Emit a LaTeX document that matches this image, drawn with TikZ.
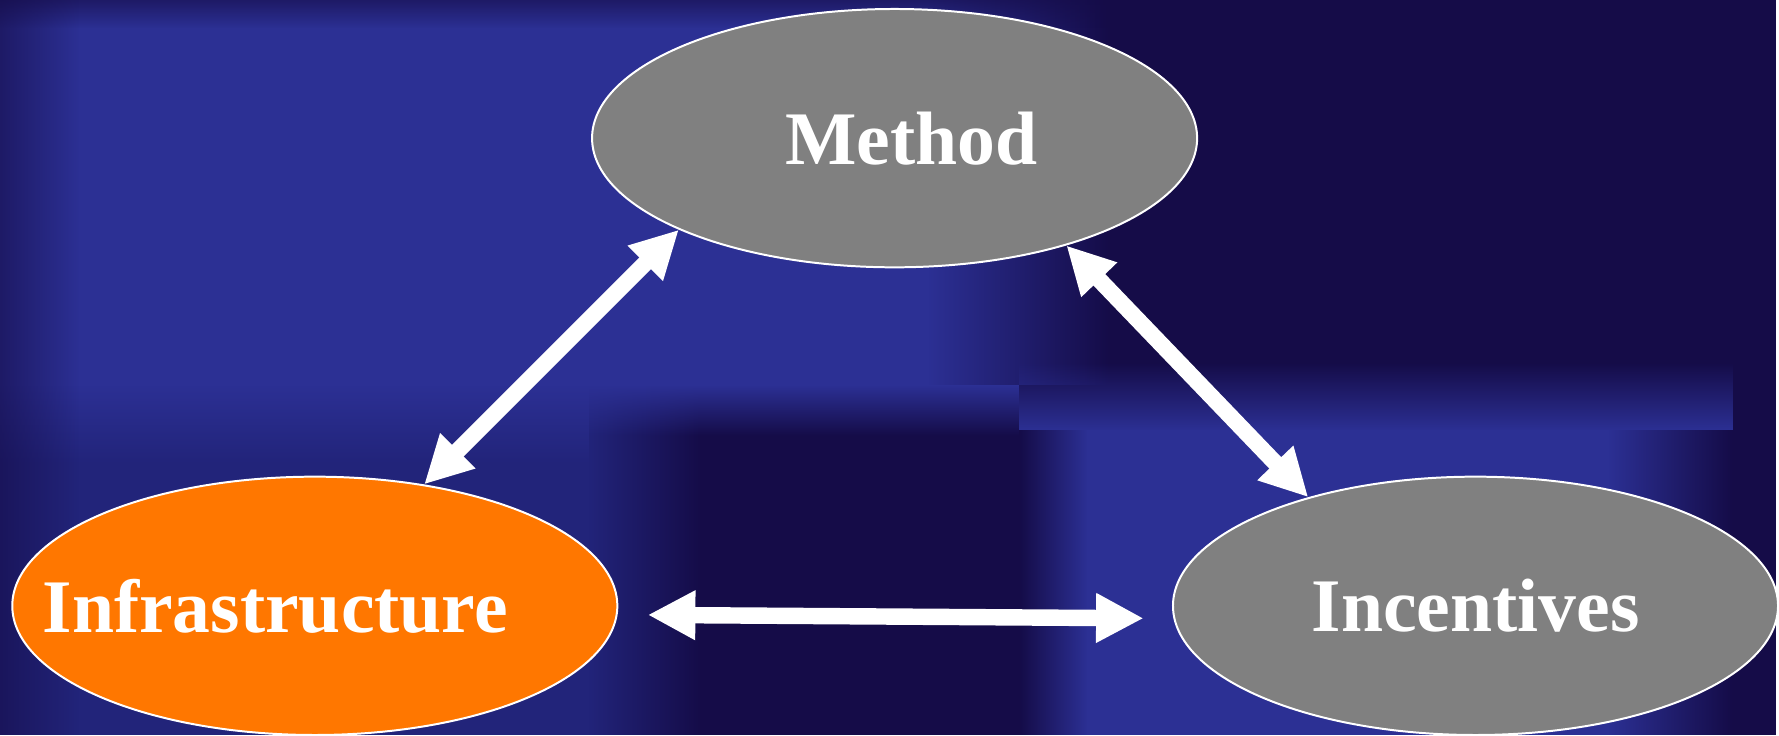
\documentclass[tikz,border=0pt]{standalone}
\usepackage{fontspec}
\setmainfont{Liberation Serif}
\usetikzlibrary{arrows.meta,shapes.geometric,fadings}
\definecolor{bgdark}{RGB}{21,12,72}
\definecolor{bglight}{RGB}{44,48,148}
\definecolor{bgmid}{RGB}{34,36,122}
\definecolor{topicgray}{RGB}{128,128,128}
\definecolor{topicorange}{RGB}{255,119,0}
\begin{document}
\begin{tikzpicture}[x=0.01cm,y=-0.01cm]
\tikzstyle{topic}=[draw=white, line width=0.5pt, ellipse, fill=topicgray, inner sep=0pt, minimum width=5.34cm, minimum height=2.28cm, text=white, font=\fontsize{19}{22}\selectfont\bfseries]
\tikzstyle{link}=[draw=white, line width=0.145cm, {Triangle[width=0.41cm,length=0.42cm]}-{Triangle[width=0.41cm,length=0.42cm]}]

% background
\fill[bgdark] (0,0) rectangle (1568,649);
\fill[bglight] (0,0) rectangle (820,340);
\fill[bglight, path fading=east] (820,0) rectangle (980,340);
\fill[bgmid] (0,340) rectangle (520,649);
\fill[bglight, path fading=south] (0,340) rectangle (520,410);
\fill[bgmid, path fading=east] (520,340) rectangle (620,649);
\fill[bglight, path fading=south] (520,340) rectangle (900,385);
\fill[bglight] (960,380) rectangle (1420,649);
\fill[bglight, path fading=north] (900,320) rectangle (1530,380);
\fill[bglight, path fading=west] (900,380) rectangle (960,649);
\fill[bglight, path fading=east] (1420,380) rectangle (1530,649);
\fill[bgdark, opacity=0.6, path fading=south] (0,0) rectangle (980,25);
\fill[bgdark, opacity=0.6, path fading=east] (0,0) rectangle (70,649);

\node[topic] (method) at (790,122) {\hspace*{0.3cm}Method};
\node[topic, fill=topicorange] (infra) at (278,535) {\hspace*{-0.7cm}Infrastructure};
\node[topic] (incent) at (1303,535) {Incentives};

\draw[link] (infra.48) -- (method.203);
\draw[link] (method.328) -- (incent.147);
\draw[link] ([xshift=0.26cm,yshift=-0.08cm]infra.east) -- ([xshift=-0.25cm,yshift=-0.11cm]incent.west);
\end{tikzpicture}
\end{document}
